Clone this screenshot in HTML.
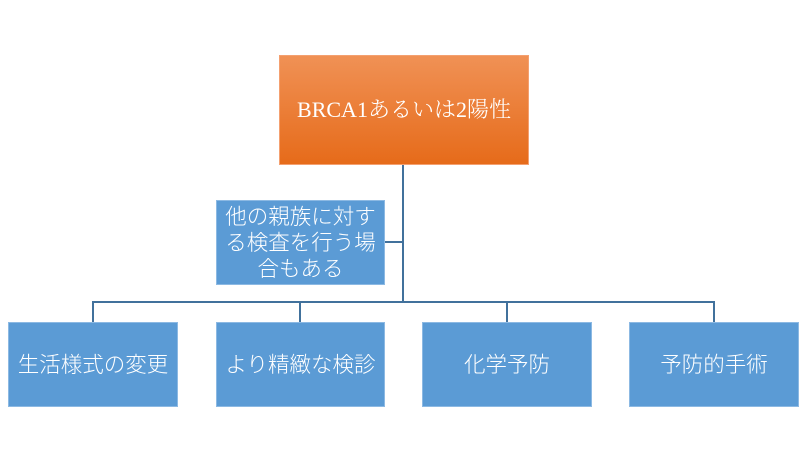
<!DOCTYPE html>
<html><head><meta charset="utf-8"><style>
body{margin:0;width:800px;height:463px;background:#fff;position:relative;overflow:hidden}
.b{position:absolute;background:#5b9bd5;color:#fff;display:flex;align-items:center;justify-content:center;text-align:center;font-family:"Liberation Sans","Noto Sans CJK JP",sans-serif;font-weight:300;font-size:21.5px;line-height:28px;box-sizing:border-box;border:1px solid #8cb9e3;white-space:nowrap}
.l{position:absolute;background:#41719c}
</style></head><body>
<div class="b" style="left:279px;top:55px;width:250px;height:110px;background:linear-gradient(#f09155,#e66b1a);border-color:#f4a070;font-family:'Liberation Serif','Noto Serif CJK JP',serif;font-size:22px">BRCA1あるいは2陽性</div>
<div class="l" style="left:402px;top:165px;width:2px;height:138px"></div>
<div class="l" style="left:385px;top:241px;width:18px;height:2px"></div>
<div class="l" style="left:92px;top:301px;width:623px;height:2px"></div>
<div class="l" style="left:92px;top:301px;width:2px;height:21px"></div>
<div class="l" style="left:299px;top:301px;width:2px;height:21px"></div>
<div class="l" style="left:506px;top:301px;width:2px;height:21px"></div>
<div class="l" style="left:713px;top:301px;width:2px;height:21px"></div>
<div class="b" style="left:216px;top:200px;width:169px;height:85px;line-height:26px">他の親族に対す<br>る検査を行う場<br>合もある</div>
<div class="b" style="left:8px;top:322px;width:170px;height:85px">生活様式の変更</div>
<div class="b" style="left:216px;top:322px;width:169px;height:85px">より精緻な検診</div>
<div class="b" style="left:422px;top:322px;width:170px;height:85px">化学予防</div>
<div class="b" style="left:629px;top:322px;width:170px;height:85px">予防的手術</div>
</body></html>
